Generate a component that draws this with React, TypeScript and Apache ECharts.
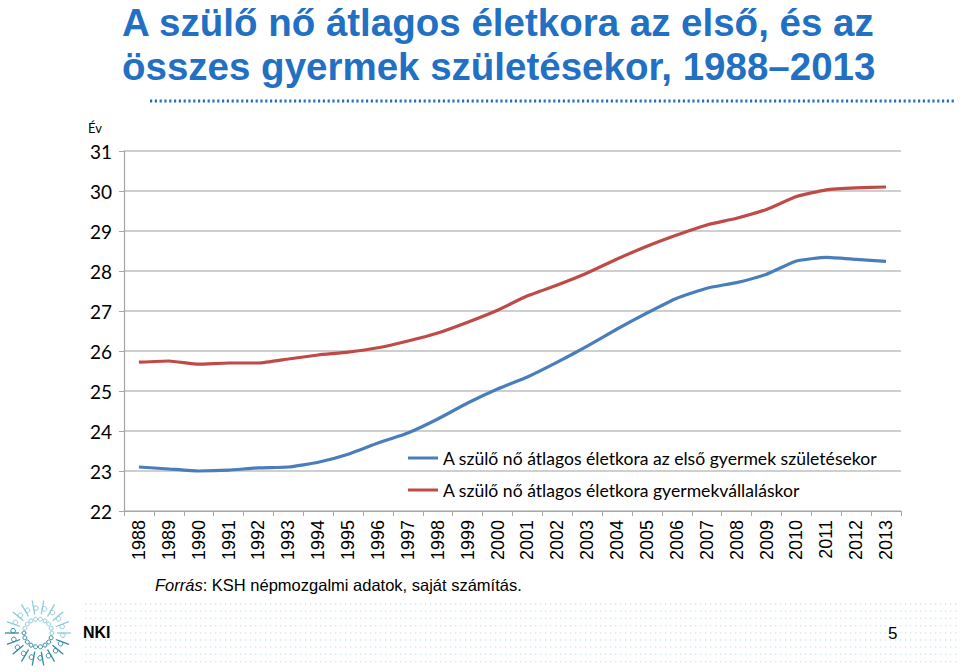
import React, { useEffect, useRef } from "react";
import * as echarts from "echarts";

const years = ["1988","1989","1990","1991","1992","1993","1994","1995","1996","1997","1998","1999","2000","2001","2002","2003","2004","2005","2006","2007","2008","2009","2010","2011","2012","2013"];
const firstChild = [23.1,23.05,23.0,23.02,23.08,23.1,23.22,23.42,23.7,23.95,24.3,24.7,25.05,25.35,25.72,26.12,26.55,26.95,27.32,27.57,27.71,27.92,28.25,28.34,28.29,28.24];
const allChildren = [25.72,25.75,25.67,25.7,25.7,25.8,25.9,25.97,26.08,26.25,26.45,26.72,27.02,27.38,27.65,27.95,28.3,28.62,28.9,29.15,29.32,29.54,29.86,30.03,30.08,30.1];
const seriesNames = ["A szülő nő átlagos életkora az első gyermek születésekor", "A szülő nő átlagos életkora gyermekvállaláskor"];
const titleLines = ["A szülő nő átlagos életkora az első, és az", "összes gyermek születésekor, 1988–2013"];

function logoElements() {
  const els: any[] = [];
  const cx = 38, cy = 633;
  const n = 18;
  for (let i = 0; i < n; i++) {
    const a = (i / n) * Math.PI * 2;
    const t = (Math.sin(a) + 1) / 2;
    const col = t > 0.5 ? "#2f8aa3" : "#8ccbdc";
    els.push({ type: "circle", shape: { cx: cx + Math.cos(a) * 14, cy: cy + Math.sin(a) * 14, r: 2 }, style: { fill: "none", stroke: col, lineWidth: 1 } });
    els.push({ type: "line", shape: { x1: cx + Math.cos(a) * 19, y1: cy + Math.sin(a) * 19, x2: cx + Math.cos(a) * 33, y2: cy + Math.sin(a) * 33 }, style: { stroke: col, lineWidth: 1.3 } });
    els.push({ type: "circle", shape: { cx: cx + Math.cos(a + 0.09) * 25, cy: cy + Math.sin(a + 0.09) * 25, r: 2.3 }, style: { fill: "none", stroke: col, lineWidth: 1 } });
  }
  return els;
}

function dotRows() {
  const els: any[] = [];
  for (let y = 604; y <= 668; y += 7.2) {
    els.push({ type: "line", shape: { x1: 85, y1: y, x2: 960, y2: y }, style: { stroke: "#cfe3ea", lineWidth: 1.3, lineDash: [1.3, 3.7] }, z: -1 });
  }
  return els;
}

export default function App() {
  const ref = useRef<HTMLDivElement>(null);
  useEffect(() => {
    document.body.style.margin = "0";
    const chart = echarts.init(ref.current!, null, { renderer: "svg" });
    chart.setOption({
      animation: false,
      backgroundColor: "#ffffff",
      grid: { left: 124, right: 59, top: 151, bottom: 161, containLabel: false },
      legend: {
        orient: "vertical",
        left: 403,
        top: 444,
        itemWidth: 30,
        itemHeight: 3,
        itemGap: 14,
        icon: "rect",
        textStyle: { fontFamily: "Lato", fontSize: 17.6, color: "#000" },
        data: seriesNames,
      },
      xAxis: {
        type: "category",
        data: years,
        boundaryGap: true,
        axisLine: { lineStyle: { color: "#a6a6a6", width: 1.2 } },
        axisTick: { show: true, length: 5, lineStyle: { color: "#a6a6a6" } },
        axisLabel: { rotate: 90, margin: 9, fontFamily: "Liberation Sans", fontSize: 18, color: "#000", interval: 0 },
        splitLine: { show: false },
      },
      yAxis: {
        type: "value",
        min: 22,
        max: 31,
        interval: 1,
        axisLine: { show: true, lineStyle: { color: "#a6a6a6", width: 1.2 } },
        axisTick: { show: true, length: 5, inside: false, lineStyle: { color: "#a6a6a6" } },
        axisLabel: { margin: 12, fontFamily: "Lato", fontSize: 19, color: "#000" },
        splitLine: { show: true, lineStyle: { color: "#bfbfbf", width: 1.5 } },
      },
      series: [
        { name: seriesNames[0], type: "line", data: firstChild, symbol: "none", smooth: 0.15, lineStyle: { color: "#4a7ebb", width: 3.2 }, itemStyle: { color: "#4a7ebb" } },
        { name: seriesNames[1], type: "line", data: allChildren, symbol: "none", smooth: 0.15, lineStyle: { color: "#be4b48", width: 3.2 }, itemStyle: { color: "#be4b48" } },
      ],
      graphic: [
        { type: "text", x: 122, y: 3, style: { text: titleLines[0], fontFamily: "Liberation Sans", fontWeight: "bold", fontSize: 38.5, fill: "#2270c4" } },
        { type: "text", x: 122, y: 47, style: { text: titleLines[1], fontFamily: "Liberation Sans", fontWeight: "bold", fontSize: 38.5, fill: "#2270c4" } },
        { type: "line", shape: { x1: 150, y1: 101, x2: 956, y2: 101 }, style: { stroke: "#2270c4", lineWidth: 3, lineDash: [2.2, 2.6] } },
        { type: "text", x: 88, y: 121, style: { text: "Év", fontFamily: "Lato", fontSize: 13, fill: "#000" } },
        {
          type: "text", x: 155, y: 576,
          style: {
            text: "{i|Forrás}: KSH népmozgalmi adatok, saját számítás.",
            fontFamily: "Liberation Sans", fontSize: 16.5, fill: "#000",
            rich: { i: { fontStyle: "italic", fontFamily: "Liberation Sans", fontSize: 16.5, fill: "#000" } },
          },
        },
        ...dotRows(),
        ...logoElements(),
        { type: "text", x: 83, y: 624, style: { text: "NKI", fontFamily: "Liberation Sans", fontWeight: "bold", fontSize: 16, fill: "#000" } },
        { type: "text", x: 888, y: 625, style: { text: "5", fontFamily: "Liberation Sans", fontSize: 17, fill: "#000" } },
      ],
    });
    return () => chart.dispose();
  }, []);
  return <div ref={ref} style={{ width: 960, height: 672 }} />;
}
